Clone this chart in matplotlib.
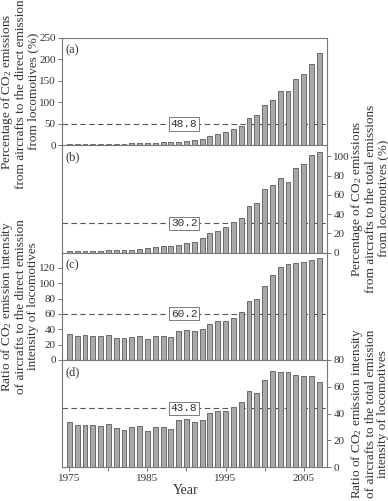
import matplotlib
matplotlib.use("Agg")
import matplotlib.pyplot as plt
import numpy as np

plt.rcParams['font.family'] = ['Liberation Serif', 'DejaVu Serif']
plt.rcParams['mathtext.fontset'] = 'custom'
plt.rcParams['mathtext.rm'] = 'Liberation Serif'
plt.rcParams['mathtext.it'] = 'Liberation Serif:italic'

years = list(range(1975, 2008))

pct_direct = [1.5, 1.5, 1.5, 2, 2.5, 3, 3, 3, 4, 4, 5, 5.5, 7.5, 7.5, 7.5, 10, 12,
              14.5, 22, 26, 31, 37.5, 45, 62.5, 70, 94, 106, 126, 126, 155, 165, 189, 214]
pct_total = [1.4, 1.4, 1.7, 1.7, 2.0, 2.4, 2.8, 2.8, 3.1, 3.8, 4.5, 5.6, 7.0, 7.0, 7.7, 9.7, 11,
             15, 19.8, 22.6, 27, 31.6, 35.8, 48.7, 51.8, 66, 70.3, 76.9, 73.7, 87.3, 92.2, 101.2, 104.7]
ratio_direct = [33.6, 31, 32.3, 31.5, 31, 32.3, 28.4, 28, 30.2, 31, 27.2, 31, 31, 29.7, 37.9, 38.8, 37.5,
                40, 47, 50.4, 50.9, 54.3, 62, 76.3, 78.9, 96, 111, 121.5, 125.4, 126.7, 128, 129.7, 132.3]
ratio_total = [33.8, 31.3, 31.5, 31.3, 30.8, 32, 29.3, 27.8, 30, 30.8, 27, 30, 30, 28.5, 35.3, 36, 33.8,
               35.3, 40.5, 42.3, 42.3, 45, 48.8, 57, 55.5, 65.3, 72, 70.8, 71, 69, 68.3, 67.8, 63.8]

means = [48.8, 30.2, 60.2, 43.8]
mean_labels = ['48.8', '30.2', '60.2', '43.8']
panel_tags = ['(a)', '(b)', '(c)', '(d)']
ylabels = [
    "Percentage of CO$_2$ emissions\nfrom aircrafts to the direct emissions\nfrom locomotives (%)",
    "Percentage of CO$_2$ emissions\nfrom aircrafts to the total emissions\nfrom locomotives (%)",
    "Ratio of CO$_2$ emission intensity\nof aircrafts to the direct emission\nintensity of locomotives",
    "Ratio of CO$_2$ emission intensity\nof aircrafts to the total emission\nintensity of locomotives",
]
series = [pct_direct, pct_total, ratio_direct, ratio_total]
ylims = [(0, 250), (0, 111.6), (0, 140), (0, 80)]
yticks = [np.arange(0, 251, 50), np.arange(0, 101, 20), np.arange(0, 121, 20), np.arange(0, 81, 20)]
sides = ['left', 'right', 'left', 'right']

W, H = 388, 501
fig = plt.figure(figsize=(W / 100, H / 100), dpi=100)

left = 62 / W
width = (327 - 62) / W
top_px = 37.7
bot_px = 467.3
ph = (bot_px - top_px) / 4

spine_c = '#777777'
text_c = '#333333'

axes = []
for i in range(4):
    y0 = 1 - (top_px + (i + 1) * ph) / H
    ax = fig.add_axes([left, y0, width, ph / H])
    axes.append(ax)
    ax.bar(years, series[i], width=0.62, color='#a9a9a9', edgecolor='#5a5a5a', linewidth=0.6, zorder=2)
    ax.axhline(means[i], color='#555555', linestyle=(0, (5, 3)), linewidth=0.8, zorder=1)
    ax.text(1989.7, means[i], mean_labels[i], family='Liberation Mono', fontsize=8,
            ha='center', va='center', color=text_c, zorder=3,
            bbox=dict(boxstyle='square,pad=0.15', facecolor='white', edgecolor='#666666', linewidth=0.6))
    ax.set_xlim(1974.05, 2008)
    ax.set_ylim(*ylims[i])
    ax.set_yticks(yticks[i])
    for s in ax.spines.values():
        s.set_color(spine_c)
        s.set_linewidth(0.8)
    if sides[i] == 'right':
        ax.yaxis.tick_right()
    ax.tick_params(axis='y', direction='out', length=3, width=0.7, color=spine_c,
                   labelsize=8, labelcolor=text_c, pad=1.5)
    ax.text(0.012, 0.94, panel_tags[i], transform=ax.transAxes, fontsize=9,
            ha='left', va='top', color=text_c)
    ax.set_xticks(range(1975, 2006, 5))
    if i < 3:
        ax.tick_params(axis='x', bottom=False, labelbottom=False)
    else:
        ax.set_xticklabels([str(y) if (y - 1975) % 10 == 0 else '' for y in range(1975, 2006, 5)])
        ax.tick_params(axis='x', direction='out', length=3, width=0.7, color=spine_c,
                       labelsize=8, labelcolor=text_c, pad=2)
    # y labels
    cy = 1 - (top_px + (i + 0.5) * ph) / H
    xpos = 19.5 / W if sides[i] == 'left' else 369 / W
    fig.text(xpos, cy, ylabels[i], rotation=90, ha='center', va='center',
             multialignment='center', fontsize=9.5, color=text_c, linespacing=1.0)

fig.text(186 / W, 1 - 490 / H, 'Year', ha='center', va='center', fontsize=10, color=text_c)

fig.savefig('out.png', dpi=100)
